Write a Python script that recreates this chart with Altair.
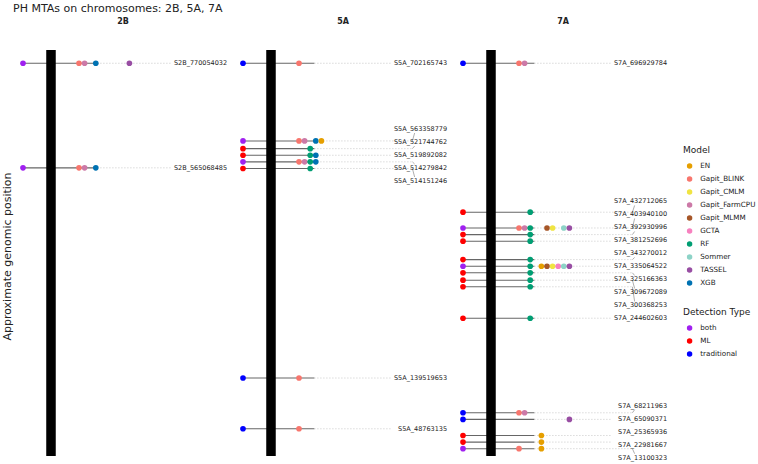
import altair as alt
import pandas as pd

# ---------------- data ----------------
CHROMOSOMES = ["2B", "5A", "7A"]

MODELS = ["EN", "Gapit_BLINK", "Gapit_CMLM", "Gapit_FarmCPU", "Gapit_MLMM",
          "GCTA", "RF", "Sommer", "TASSEL", "XGB"]
MODEL_COLORS = ["#E69F00", "#F8766D", "#F0E442", "#CC79A7", "#A65628",
                "#F781BF", "#009E73", "#8DD3C7", "#984EA3", "#0072B2"]
# left-to-right order of the model dots along every marker row
MODEL_ORDER = ["Gapit_BLINK", "Gapit_FarmCPU", "RF", "XGB", "EN",
               "Gapit_MLMM", "Gapit_CMLM", "GCTA", "Sommer", "TASSEL"]

DETECTION_TYPES = ["both", "ML", "traditional"]
DETECTION_COLORS = ["#A020F0", "#FF0000", "#0000FF"]

pos_2B = [770054032, 565068485]
type_2B = ["both", "both"]
models_2B = [["Gapit_BLINK", "Gapit_FarmCPU", "XGB", "TASSEL"],
             ["Gapit_BLINK", "Gapit_FarmCPU", "XGB"]]

pos_5A = [702165743, 563358779, 521744762, 519892082, 514279842, 514151246,
          139519653, 48763135]
type_5A = ["traditional", "both", "ML", "ML", "both", "ML",
           "traditional", "traditional"]
models_5A = [["Gapit_BLINK"],
             ["Gapit_BLINK", "Gapit_FarmCPU", "XGB", "EN"],
             ["RF"],
             ["RF", "XGB"],
             ["Gapit_BLINK", "Gapit_FarmCPU", "RF", "XGB"],
             ["RF"],
             ["Gapit_BLINK"],
             ["Gapit_BLINK"]]

pos_7A = [696929784, 432712065, 403940100, 392930996, 381252696, 343270012,
          335064522, 325166363, 309672089, 300368253, 244602603, 68211963,
          65090371, 25365936, 22981667, 13100323]
type_7A = ["traditional", "ML", "both", "ML", "ML", "ML", "both", "ML", "ML",
           "ML", "ML", "traditional", "traditional", "ML", "ML", "both"]
models_7A = [["Gapit_BLINK", "Gapit_FarmCPU"],
             ["RF"],
             ["Gapit_BLINK", "Gapit_FarmCPU", "RF", "Gapit_MLMM", "Gapit_CMLM",
              "Sommer", "TASSEL"],
             ["RF"],
             ["RF"],
             ["RF"],
             ["RF", "EN", "Gapit_MLMM", "Gapit_CMLM", "GCTA", "Sommer", "TASSEL"],
             ["RF"],
             ["RF"],
             ["RF"],
             ["RF"],
             ["Gapit_BLINK", "Gapit_FarmCPU"],
             ["TASSEL"],
             ["EN"],
             ["EN"],
             ["Gapit_BLINK", "EN"]]

PANEL_DATA = {
    "2B": (pos_2B, type_2B, models_2B),
    "5A": (pos_5A, type_5A, models_5A),
    "7A": (pos_7A, type_7A, models_7A),
}

# ---------------- layout ----------------
FONT = "DejaVu Sans"
PANEL_W, PANEL_H = 220, 425
X_MIN, X_MAX = -1.357, 6.5          # horizontal layout units (chromosome at 0)
X_DET = -1.0                        # detection-type dot
BAR_HALF = 0.17                     # half width of the chromosome bar
SLOT0, SLOT_STEP = 1.0, 0.2         # model dots
X_SOLID_END = 1.55
X_LEADER = 5.05
X_DOT_END_PLAIN = 4.3
X_LABEL = 6.29
Y_LO, Y_HI, BAR_TOP = -0.01, 1.072, 1.034   # fractions of the last marker
ROW_GAP_PX = 6.6
LABEL_GAP_PX = 13.0


def spread_rows(vals, gap):
    """Push nearly coincident markers upward so every row stays visible."""
    order = sorted(range(len(vals)), key=lambda i: vals[i])
    out = [0.0] * len(vals)
    prev = None
    for i in order:
        v = vals[i]
        if prev is not None and v < prev + gap:
            v = prev + gap
        out[i] = v
        prev = v
    return out


def spread_labels(vals, gap):
    """1-D label repel: overlapping labels form evenly spaced groups centred on their rows."""
    order = sorted(range(len(vals)), key=lambda i: vals[i])

    def centre(g):
        return sum(vals[j] for j in g) / len(g)

    groups = []
    for i in order:
        groups.append([i])
        while len(groups) > 1:
            a, b = groups[-2], groups[-1]
            top_a = centre(a) + (len(a) - 1) * gap / 2
            bot_b = centre(b) - (len(b) - 1) * gap / 2
            if bot_b - top_a < gap:
                groups[-2:] = [a + b]
            else:
                break
    out = [0.0] * len(vals)
    for g in groups:
        c = centre(g)
        for k, j in enumerate(g):
            out[j] = c - (len(g) - 1) * gap / 2 + k * gap
    return out


def panel(chrom, first):
    positions, types, models = PANEL_DATA[chrom]
    mb = [p / 1e6 for p in positions]
    top = max(mb)
    lo, hi = Y_LO * top, Y_HI * top
    ppm = PANEL_H / (hi - lo)
    rows = spread_rows(mb, ROW_GAP_PX / ppm)
    labels = spread_labels(rows, LABEL_GAP_PX / ppm)

    row_recs, dot_recs, lead_recs = [], [], []
    for p, t, ms, r, lab in zip(positions, types, models, rows, labels):
        name = f"S{chrom}_{p}"
        diff_px = (lab - r) * ppm
        moved = abs(diff_px) > 4
        row_recs.append(dict(marker=name, detection=t, row=r, label=lab,
                             x_det=X_DET, x_solid=X_SOLID_END,
                             x_dot=X_LEADER if moved else X_DOT_END_PLAIN,
                             x_label=X_LABEL))
        if moved:
            sgn = 1 if diff_px > 0 else -1
            lead_recs.append(dict(x=X_LEADER, x2=X_LEADER + 0.08, y=r,
                                  y2=lab - sgn * 4.0 / ppm))
        for m in ms:
            dot_recs.append(dict(marker=name, model=m, row=r,
                                 x=SLOT0 + SLOT_STEP * MODEL_ORDER.index(m)))

    rows_df = pd.DataFrame(row_recs)
    dots_df = pd.DataFrame(dot_recs)
    lead_df = pd.DataFrame(lead_recs if lead_recs else [dict(x=0, x2=0, y=0, y2=0)])
    bar_df = pd.DataFrame([dict(x=-BAR_HALF, x2=BAR_HALF, y=0.0, y2=BAR_TOP * top)])

    xs = alt.Scale(domain=[X_MIN, X_MAX], nice=False, zero=False)
    ys = alt.Scale(domain=[lo, hi], nice=False, zero=False)
    if first:
        yaxis = alt.Axis(title="Approximate genomic position", labels=False,
                         ticks=False, domain=False, grid=False,
                         titleFont=FONT, titleFontSize=11,
                         titleFontWeight="normal", titleColor="#222",
                         titlePadding=1, titleY=221)
    else:
        yaxis = None

    def X(f):
        return alt.X(f"{f}:Q", scale=xs, axis=None)

    def Y(f):
        return alt.Y(f"{f}:Q", scale=ys, axis=yaxis)

    solid = alt.Chart(rows_df).mark_rule(color="#666666", strokeWidth=1.1).encode(
        x=X("x_det"), x2="x_solid:Q", y=Y("row"))
    dotted = alt.Chart(rows_df).mark_rule(
        color="#BBBBBB", strokeWidth=0.8, strokeDash=[1, 2]).encode(
        x=X("x_solid"), x2="x_dot:Q", y=Y("row"))
    layers = [solid, dotted]
    if lead_recs:
        leader = alt.Chart(lead_df).mark_rule(color="#777777", strokeWidth=0.6).encode(
            x=X("x"), x2="x2:Q", y=Y("y"), y2="y2:Q")
        layers.append(leader)
    bar = alt.Chart(bar_df).mark_rect(color="black").encode(
        x=X("x"), x2="x2:Q", y=Y("y"), y2="y2:Q")
    model_dots = alt.Chart(dots_df).mark_circle(size=32, opacity=1).encode(
        x=X("x"), y=Y("row"),
        color=alt.Color("model:N", title="Model",
                        scale=alt.Scale(domain=MODELS, range=MODEL_COLORS),
                        legend=alt.Legend(orient="none", legendX=670, legendY=111)))
    det_dots = alt.Chart(rows_df).mark_circle(size=32, opacity=1).encode(
        x=X("x_det"), y=Y("row"),
        fill=alt.Fill("detection:N", title="Detection Type",
                      scale=alt.Scale(domain=DETECTION_TYPES, range=DETECTION_COLORS),
                      legend=alt.Legend(orient="none", legendX=670, legendY=273)))
    text = alt.Chart(rows_df).mark_text(
        align="right", baseline="middle", font=FONT, fontSize=6.5, color="#222222"
    ).encode(x=X("x_label"), y=Y("label"), text="marker:N")
    layers += [bar, model_dots, det_dots, text]

    return alt.layer(*layers).properties(
        width=PANEL_W, height=PANEL_H,
        title=alt.TitleParams(chrom, font=FONT, fontSize=8, fontWeight="bold",
                              color="#222", offset=9))


chart = alt.hconcat(
    *[panel(c, i == 0) for i, c in enumerate(CHROMOSOMES)], spacing=0, bounds="flush"
).resolve_scale(
    x="independent", y="independent", color="shared", fill="shared"
).properties(
    title=alt.TitleParams("PH MTAs on chromosomes: 2B, 5A, 7A", anchor="start",
                          frame="group", font=FONT, fontSize=11,
                          fontWeight="normal", color="#222", offset=4),
    padding={"left": 1, "top": 3, "right": 0, "bottom": 0},
).configure_view(stroke=None).configure_legend(
    titleFont=FONT, titleFontSize=9, titleFontWeight="normal", titleColor="#222",
    labelFont=FONT, labelFontSize=7.2, labelColor="#222",
    symbolSize=30, symbolType="circle", symbolStrokeWidth=0, symbolOffset=3,
    rowPadding=5.0, titlePadding=7.5, labelOffset=7,
)

chart.save("out.html", embed_options={"renderer": "svg", "actions": False})
